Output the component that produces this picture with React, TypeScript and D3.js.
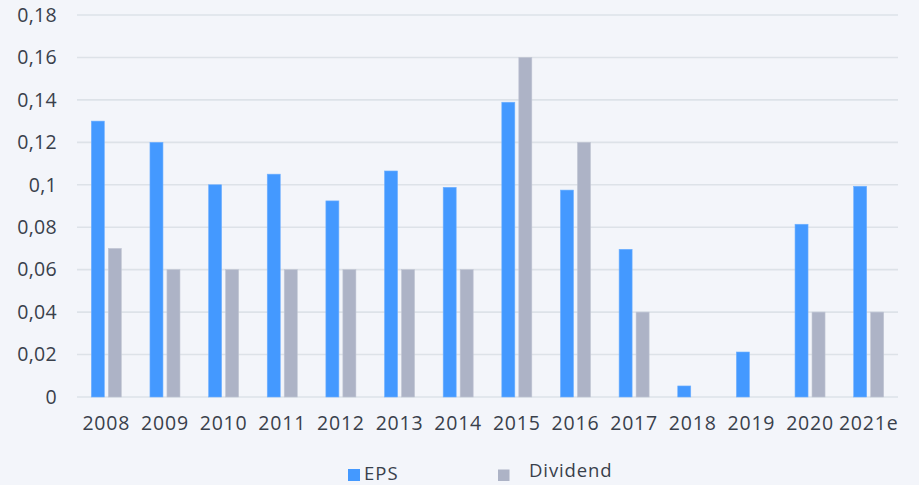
import React from "react";
import * as d3 from "d3";

const categories = ["2008","2009","2010","2011","2012","2013","2014","2015","2016","2017","2018","2019","2020","2021e"];
const epsValues = [0.130,0.120,0.100,0.105,0.0924,0.1065,0.0988,0.1389,0.0975,0.0696,0.0052,0.0212,0.0814,0.0993];
const dividendValues = [0.07,0.06,0.06,0.06,0.06,0.06,0.06,0.16,0.12,0.04,0,0,0.04,0.04];
const yTicks = [0,0.02,0.04,0.06,0.08,0.1,0.12,0.14,0.16,0.18];
const seriesNames = ["EPS","Dividend"];

const W = 919, H = 485;
const margin = { left: 77, right: 21, top: 15, bottom: 88 };
const EPS_COLOR = "#4499FF";
const DIV_COLOR = "#ADB3C6";
const TEXT = "#39404B";
const FONT = "'Open Sans', sans-serif";

export default function App() {
  const x = d3.scaleBand<string>().domain(categories).range([margin.left, W - margin.right]).padding(0);
  const y = d3.scaleLinear().domain([0, 0.18]).range([H - margin.bottom, margin.top]);
  const barW = 13, gap = 4;
  const fmt = (v: number) => String(+v.toFixed(2)).replace(".", ",");
  return (
    <svg width={W} height={H} style={{ position: "fixed", left: 0, top: 0, background: "#F3F5FA" }} fontFamily={FONT}>
      <rect x={0} y={0} width={W} height={H} fill="#F3F5FA" />
      {yTicks.map((t) => (
        <g key={t}>
          <line x1={margin.left} x2={W - margin.right} y1={y(t)} y2={y(t)} stroke="#DDE2E8" strokeWidth={1.6} />
          <text x={57} y={y(t)} dy="0.35em" textAnchor="end" fontSize={19.5} fill={TEXT} letterSpacing={0.3}>{fmt(t)}</text>
        </g>
      ))}
      {categories.map((c, i) => {
        const cx = (x(c) as number) + x.bandwidth() / 2;
        const e = epsValues[i], d = dividendValues[i];
        return (
          <g key={c}>
            <rect x={cx - gap / 2 - barW} y={y(e)} width={barW} height={y(0) - y(e)} fill={EPS_COLOR} stroke="#6FB0FF" strokeWidth={0.6} />
            {d > 0 && <rect x={cx + gap / 2} y={y(d)} width={barW} height={y(0) - y(d)} fill={DIV_COLOR} stroke="#C0C5D3" strokeWidth={0.6} />}
            <text x={cx} y={430} textAnchor="middle" fontSize={19.5} fill={TEXT} letterSpacing={0.8}>{c}</text>
          </g>
        );
      })}
      <rect x={348} y={469} width={12} height={12} fill={EPS_COLOR} />
      <text x={364} y={479.5} fontSize={18.5} fill={TEXT} letterSpacing={1}>{seriesNames[0]}</text>
      <rect x={498} y={469.5} width={11.5} height={11.5} fill={DIV_COLOR} />
      <text x={529} y={477} fontSize={18.5} fill={TEXT} letterSpacing={0.9}>{seriesNames[1]}</text>
    </svg>
  );
}
